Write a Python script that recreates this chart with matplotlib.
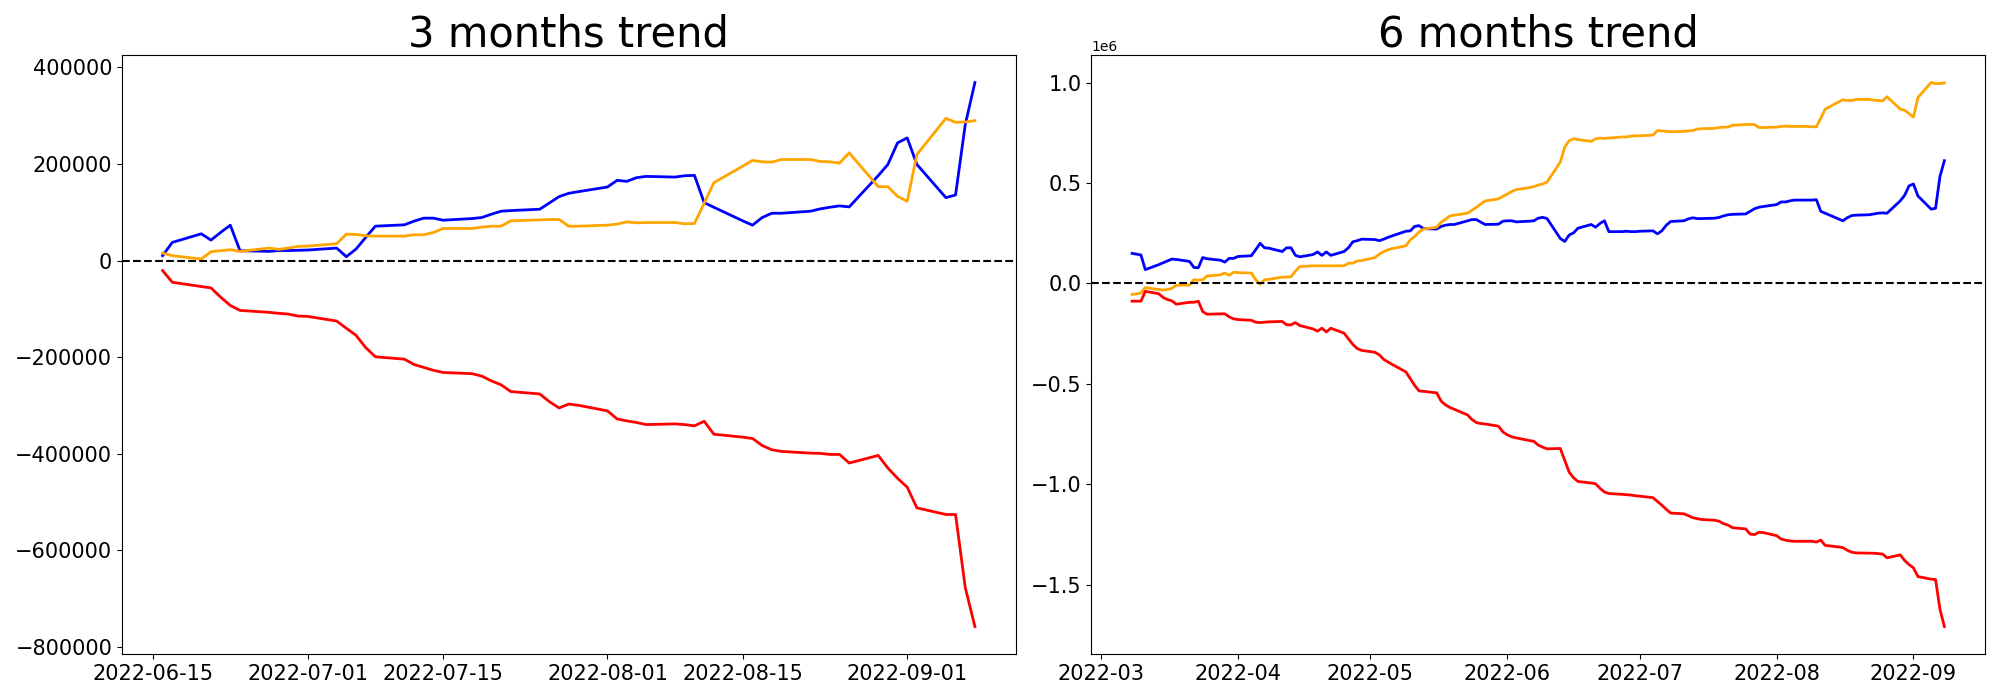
import pandas as pd
import numpy as np
import matplotlib
matplotlib.use("Agg")
import matplotlib.pyplot as plt

###### 3 MONTHS DATA (business days 2022-06-16 .. 2022-09-08) ######
start_3m = '2022-06-16'
end_3m = '2022-09-08'
blue_3m = [10300, 37800,
           55600, 42600, 58400, 73500, 20600,
           19200, 21000, 21000, 21500, 22000,
           26100, 8200, 24000, 48000, 71400,
           74200, 81800, 88000, 88000, 83800,
           87200, 89300, 96200, 102400, 103700,
           106500, 119500, 132600, 139500, 142900,
           152500, 166300, 164200, 171800, 174500,
           173100, 175900, 176600, 120200, 110600,
           82400, 73500, 89300, 98200, 98200,
           102400, 107200, 110600, 113400, 111300,
           176000, 199200, 243900, 254200, 199200,
           130500, 136000, 281700, 368900]
orange_3m = [15800, 10300,
             3400, 18500, 20600, 22700, 19200,
             26100, 23400, 26100, 29500, 30200,
             35000, 55000, 54300, 51500, 50800,
             50800, 53600, 53600, 58400, 66600,
             66600, 69400, 71400, 71400, 82400,
             84500, 85200, 85200, 71400, 71400,
             73500, 75600, 80400, 78300, 79000,
             79000, 76300, 77000, 118900, 161400,
             195800, 207500, 204700, 204000, 209500,
             209500, 205400, 204700, 202000, 223300,
             153200, 153200, 133300, 123000, 219800,
             294700, 286500, 287200, 289900]
red_3m = [-20600, -44700,
          -53600, -56300, -75600, -92700, -103000,
          -107000, -109000, -110600, -114700, -115400,
          -125000, -140000, -154600, -180000, -199000,
          -204000, -215000, -221000, -227000, -231500,
          -234000, -239000, -249000, -257000, -271000,
          -276000, -292000, -305000, -297000, -299500,
          -311000, -327700, -331800, -335000, -339400,
          -338000, -339400, -342000, -332500, -359300,
          -365500, -368200, -382700, -391600, -395000,
          -398500, -399000, -401200, -401200, -419000,
          -403300, -429400, -450700, -469000, -511800,
          -525600, -525600, -676700, -757700]

###### 6 MONTHS DATA (business days 2022-03-08 .. 2022-09-08) ######
start_6m = '2022-03-08'
end_6m = '2022-09-08'
blue_6m = [150000, 146000, 142000, 69000,
           93500, 103000, 112000, 121500, 119700,
           110000, 80000, 78500, 129000, 123000,
           116000, 106600, 125000, 125000, 134600,
           138000, 168000, 200000, 177600, 175700,
           159000, 177600, 177600, 140000, 132700,
           144000, 157000, 140000, 157000, 140000,
           159000, 177600, 207500, 213000, 220600,
           218700, 213000, 220600, 230000, 237400,
           260000, 261700, 284000, 288000, 273000,
           271000, 284000, 290000, 293500, 293500,
           312000, 318000, 318000, 305000, 293500,
           295000, 310000, 312000, 312000, 306600,
           310000, 312000, 325000, 329000, 323000,
           224000, 209000, 241000, 252000, 275000,
           293500, 280000, 299000, 312000, 258000,
           258000, 260000, 258000, 258000, 260000,
           262000, 247000, 262000, 290000, 308500,
           312000, 321600, 327000, 323000, 323000,
           325000, 329000, 336500, 342000, 344000,
           346000, 359000, 372000, 379500, 383000,
           392600, 405700, 405700, 411000, 415000,
           415000, 415000, 417000, 359000, 349600,
           321600, 312000, 327000, 338000, 340000,
           342000, 346000, 349600, 351500, 349600,
           411000, 439000, 486000, 495000, 435600,
           370000, 374000, 533000, 611000]
orange_6m = [-54000, -52000, -47000, -20600,
             -30000, -32000, -30000, -24000, -9000,
             -7500, 18700, 16800, 18700, 37400,
             43000, 52000, 41000, 56000, 54000,
             52000, 18700, -3700, 18700, 20600,
             31800, 31800, 33600, 61700, 84000,
             88000, 88000, 88000, 88000, 88000,
             88000, 101000, 101000, 112000, 114000,
             129000, 146000, 159000, 168000, 174000,
             187000, 217000, 233700, 256000, 271000,
             280000, 305000, 320000, 336500, 340000,
             350000, 364600, 379500, 396000, 411000,
             420700, 433700, 445000, 458000, 467000,
             477000, 482000, 490000, 495000, 505000,
             604000, 679000, 710000, 720000, 716000,
             707000, 720000, 723500, 721700, 723500,
             729000, 729000, 733000, 735000, 735000,
             738500, 761000, 759000, 757000, 755000,
             757000, 759000, 761000, 768000, 770000,
             772000, 776000, 778000, 778000, 787000,
             791000, 791000, 791000, 776000, 776000,
             778000, 781500, 783000, 781500, 781500,
             781500, 779600, 779600, 822600, 867500,
             903000, 914000, 910500, 910500, 916000,
             916000, 912000, 910500, 908600, 929000,
             867500, 862000, 845000, 828000, 925500,
             1000000, 994600, 994600, 998000]
red_6m = [-88000, -88000, -88000, -39000,
          -50500, -69000, -80000, -86000, -103000,
          -93500, -93500, -88000, -140000, -153000,
          -151000, -151000, -166000, -176000, -179500,
          -183000, -192600, -194400, -192600, -190700,
          -188800, -205600, -205600, -194400, -209400,
          -226000, -237000, -222500, -241000, -222500,
          -246800, -274800, -303000, -323400, -332800,
          -342000, -355000, -377700, -390700, -403800,
          -439400, -473000, -506700, -534700, -536600,
          -544000, -585000, -604000, -617000, -626000,
          -654000, -677000, -692000, -697000, -699000,
          -710000, -738500, -753000, -763000, -768000,
          -781500, -785000, -804000, -814000, -822600,
          -820800, -879000, -938500, -966600, -985000,
          -992700, -996500, -1019000, -1037600, -1045000,
          -1049000, -1051000, -1052600, -1056000, -1058000,
          -1065700, -1084000, -1103000, -1123600, -1142000,
          -1146000, -1155000, -1165000, -1170000, -1174000,
          -1178000, -1183000, -1195000, -1202000, -1215000,
          -1221000, -1247000, -1249000, -1237700, -1239500,
          -1254500, -1271000, -1277000, -1280700, -1282500,
          -1282500, -1282500, -1286000, -1277000, -1303000,
          -1310600, -1314000, -1327000, -1336800, -1340500,
          -1342000, -1342000, -1344000, -1346000, -1365000,
          -1350000, -1378000, -1398500, -1415000, -1458000,
          -1471000, -1473000, -1621000, -1707000]

dates_3m = pd.bdate_range(start_3m, end_3m)
dates_6m = pd.bdate_range(start_6m, end_6m)

fig, axes = plt.subplots(1, 2, figsize=(20, 7))
fig.subplots_adjust(left=0.061, right=0.9925, top=0.921, bottom=0.066, wspace=0.085)

###### 3 MONTHS ######
ax = axes[0]
ax.plot(dates_3m, blue_3m, color='blue', linewidth=2)
ax.plot(dates_3m, orange_3m, color='orange', linewidth=2)
ax.plot(dates_3m, red_3m, color='red', linewidth=2)
ax.axhline(0, color='black', linestyle='--', linewidth=1.5)
ax.set_title('3 months trend', fontsize=30)
ax.tick_params(labelsize=15)

###### 6 MONTHS ######
ax = axes[1]
ax.plot(dates_6m, blue_6m, color='blue', linewidth=2)
ax.plot(dates_6m, orange_6m, color='orange', linewidth=2)
ax.plot(dates_6m, red_6m, color='red', linewidth=2)
ax.axhline(0, color='black', linestyle='--', linewidth=1.5)
ax.set_title('6 months trend', fontsize=30)
ax.tick_params(labelsize=15)

fig.savefig('out.png', dpi=100)
